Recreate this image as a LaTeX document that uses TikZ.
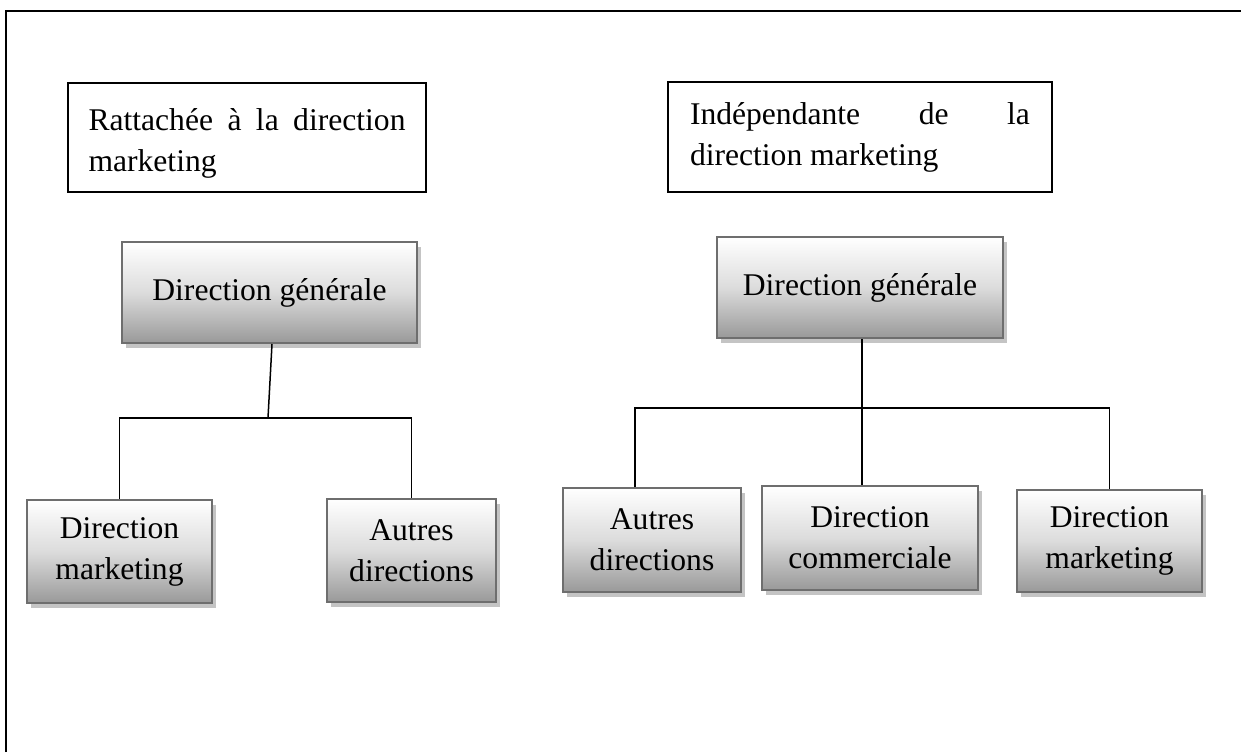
\documentclass[tikz,border=0pt]{standalone}
\usepackage{fontspec}
\setmainfont{Liberation Serif}
\usetikzlibrary{shadows}
\definecolor{boxedge}{HTML}{6E6E6E}
\definecolor{boxlow}{HTML}{999999}
\definecolor{boxmid}{HTML}{DCDCDC}
\definecolor{shadowgray}{HTML}{C4C4C4}

\begin{document}
\begin{tikzpicture}[x=1pt,y=-1pt,
  txt/.style={font=\fontsize{31.6}{41}\selectfont},
  titlebox/.style={txt, draw=black, line width=2pt, inner sep=0pt, align=left},
  unit/.style={txt, draw=boxedge, line width=2pt, top color=white,
    bottom color=boxlow, middle color=boxmid, align=center, inner sep=0pt,
    drop shadow={shadow xshift=3.5pt, shadow yshift=-4.5pt,
      fill=shadowgray, opacity=1}},
  link/.style={draw=black, line width=1.5pt}]

\useasboundingbox (0,0) rectangle (1241,752);

% outer frame (open to the right and bottom)
\draw[line width=2pt] (6,752) -- (6,11) -- (1241,11);

% headings
\node[titlebox, minimum width=358pt, minimum height=109pt] (t1) at (247,137.5)
  {\rule{0pt}{33pt}\makebox[317pt][s]{Rattachée à la direction}\\marketing};
\node[titlebox, line width=2.4pt, minimum width=384pt, minimum height=110pt] (t2) at (860,137)
  {\makebox[340pt][s]{Indépendante de la}\\direction marketing};

% left chart
\node[unit, minimum width=295pt, minimum height=101pt] (g1) at (269.5,292.5) {Direction générale};
\node[unit, minimum width=185pt, minimum height=103pt] (l1) at (119.5,551.5) {Direction\\marketing};
\node[unit, minimum width=169pt, minimum height=103pt] (l2) at (411.5,550.5) {Autres\\directions};

\coordinate (jl) at (268,418);
\draw[link] ([xshift=2.5pt]g1.south) -- (jl);
\draw[link] (l1.north) |- (jl) -| (l2.north);

% right chart
\node[unit, minimum width=286pt, minimum height=101pt] (g2) at (860,287.5) {Direction générale};
\node[unit, minimum width=178pt, minimum height=104pt] (r1) at (652,540) {Autres\\directions};
\node[unit, minimum width=216pt, minimum height=104pt] (r2) at (870,538) {Direction\\commerciale};
\node[unit, minimum width=185pt, minimum height=102pt] (r3) at (1109.5,541) {Direction\\marketing};

\coordinate (jr) at (862,408);
\draw[link] ([xshift=2pt]g2.south) -- (jr) -- (jr |- r2.north);
\draw[link] ([xshift=-17pt]r1.north) |- (jr) -| (r3.north);

\end{tikzpicture}
\end{document}
